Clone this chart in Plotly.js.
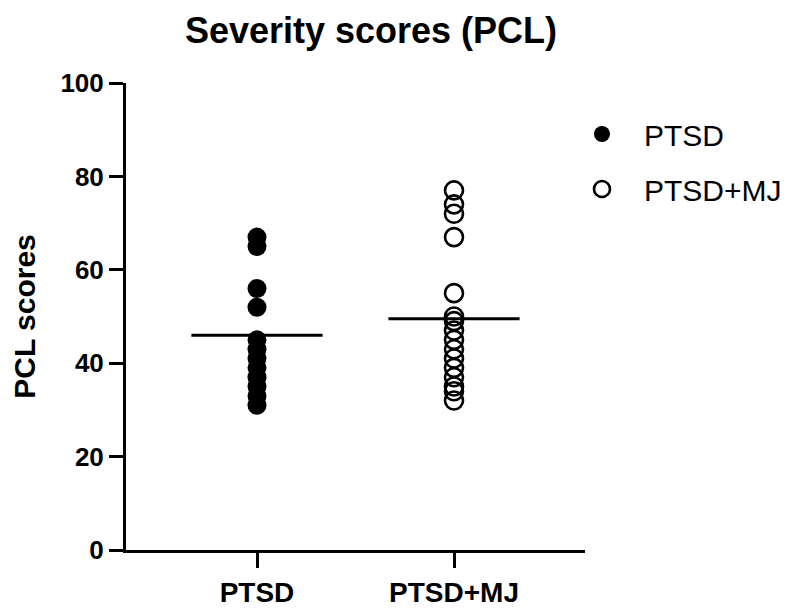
<!DOCTYPE html>
<html>
<head>
<meta charset="utf-8">
<script src="https://cdn.plot.ly/plotly-3.0.1.min.js"></script>
<style>html,body{margin:0;padding:0;background:#fff;}#chart{width:788px;height:608px;}</style>
</head>
<body>
<div id="chart"></div>
<script>
const categories = ["PTSD", "PTSD+MJ"];
const ptsdScores = [67, 65, 56, 52, 45, 43, 41, 39, 37, 35, 33, 31];
const ptsdMjScores = [77, 74, 72, 67, 55, 50, 49, 47, 45, 43, 41, 39, 37, 35, 34, 32];
const meanValues = [46, 49.5];
const yTicks = [0, 20, 40, 60, 80, 100];

const FONT = "Liberation Sans, Arial, sans-serif";
const halfWidth = 0.333;

const traces = [
  {
    type: "scatter", mode: "markers", name: categories[0],
    x: ptsdScores.map(() => 0), y: ptsdScores,
    marker: {symbol: "circle", size: 19, color: "#000", line: {width: 0}},
    legendgroup: "a", hoverinfo: "y"
  },
  {
    type: "scatter", mode: "markers", name: categories[1],
    x: ptsdMjScores.map(() => 1), y: ptsdMjScores,
    marker: {symbol: "circle-open", size: 18, color: "#000", line: {width: 2.6, color: "#000"}},
    legendgroup: "b", hoverinfo: "y"
  }
];
meanValues.forEach((m, i) => {
  traces.push({
    type: "scatter", mode: "lines", showlegend: false,
    x: [i - halfWidth, i + halfWidth], y: [m, m],
    line: {color: "#000", width: 3}, hoverinfo: "skip"
  });
});

const layout = {
  width: 788, height: 608,
  margin: {l: 126, r: 203, t: 83, b: 58, autoexpand: false},
  paper_bgcolor: "#fff", plot_bgcolor: "#fff",
  font: {family: FONT, color: "#000"},
  title: {
    text: "<b>Severity scores (PCL)</b>",
    font: {family: FONT, size: 36, color: "#000"},
    x: 371 / 788, xanchor: "center", y: 1 - 30 / 608, yanchor: "middle"
  },
  xaxis: {
    range: [-0.665, 1.665], tickvals: [0, 1], ticktext: categories.map(c => "<b>" + c + "</b>"),
    showline: true, linecolor: "#000", linewidth: 3,
    ticks: "outside", ticklen: 15, tickwidth: 3, tickcolor: "#000",
    showgrid: false, zeroline: false,
    tickfont: {family: FONT, size: 28, color: "#000"}
  },
  yaxis: {
    range: [0, 100], tickvals: yTicks, ticktext: yTicks.map(v => "<b>" + v + "</b>"),
    showline: true, linecolor: "#000", linewidth: 3,
    ticks: "outside", ticklen: 14, tickwidth: 3, tickcolor: "#000",
    showgrid: false, zeroline: false,
    tickfont: {family: FONT, size: 26, color: "#000"},
    title: {text: "<b>PCL scores</b>", font: {family: FONT, size: 30, color: "#000"}, standoff: 16}
  },
  showlegend: true,
  legend: {
    x: (560 - 126) / 459, xanchor: "left", y: 1 - (108 - 83) / 467, yanchor: "top",
    font: {family: FONT, size: 30, color: "#000"},
    traceorder: "grouped", tracegroupgap: 13,
    itemsizing: "trace", itemwidth: 74,
    bgcolor: "rgba(0,0,0,0)"
  }
};

Plotly.newPlot("chart", traces, layout, {displayModeBar: false, staticPlot: true});
</script>
</body>
</html>
